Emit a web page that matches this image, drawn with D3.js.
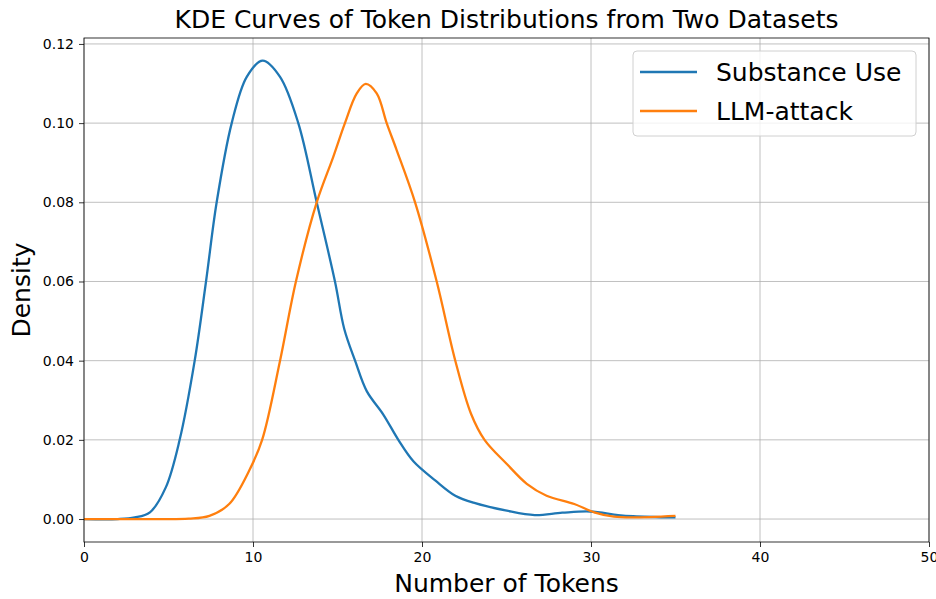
<!DOCTYPE html>
<html>
<head>
<meta charset="utf-8">
<script src="https://cdn.jsdelivr.net/npm/d3@7"></script>
<style>
  body { margin: 0; background: #fff; }
  text { font-family: "DejaVu Sans", sans-serif; }
</style>
</head>
<body>
<div id="chart"></div>
<script>
// Data
var seriesNames = ["Substance Use", "LLM-attack"];

var substanceX = [0, 2, 3, 3.9, 4.84, 5.66, 6.55, 7.22, 7.85, 8.74, 9.63, 10.57, 11.6, 12.68, 13.77, 14.85, 15.4, 16.04, 16.73, 17.71, 18.6, 19.49, 20.8, 21.97, 23.15, 25.02, 26.67, 28.3, 29.95, 31.6, 32.5, 35];
var substanceY = [0, 0, 0.0004, 0.0017, 0.008, 0.02, 0.04, 0.06, 0.08, 0.10, 0.1117, 0.1158, 0.1117, 0.10, 0.08, 0.06, 0.048, 0.04, 0.0323, 0.0264, 0.02, 0.0146, 0.0097, 0.0059, 0.004, 0.0021, 0.001, 0.0016, 0.0019, 0.001, 0.0007, 0.0004];

var llmX = [0, 4, 6.2, 7.42, 8.59, 9.77, 10.54, 11.6, 12.54, 13.77, 14.75, 15.44, 16.14, 16.67, 17.32, 17.91, 18.5, 19.59, 20.87, 21.97, 22.9, 23.7, 25.02, 26.2, 27.37, 29.01, 30.19, 31.36, 32.5, 35];
var llmY = [0, 0, 0.0001, 0.0008, 0.0038, 0.0122, 0.02, 0.04, 0.06, 0.08, 0.0915, 0.10, 0.1075, 0.1099, 0.1075, 0.10, 0.0932, 0.08, 0.06, 0.04, 0.0266, 0.02, 0.0139, 0.0089, 0.0059, 0.0038, 0.0017, 0.0006, 0.0004, 0.0008];

var xTicks = [0, 10, 20, 30, 40, 50];
var yTicks = [0, 0.02, 0.04, 0.06, 0.08, 0.10, 0.12];

//---------------------------------------------------------------------
// svg dimensions and margins
var svgWidth = 936;
var svgHeight = 599;
var margin = { top: 38, right: 7, bottom: 57, left: 84 };
var width = svgWidth - margin.left - margin.right;
var height = svgHeight - margin.top - margin.bottom;

var colors = ["#1f77b4", "#ff7f0e"];

var svg = d3.select("#chart").append("svg").attr("width", svgWidth).attr("height", svgHeight);
var chartGroup = svg.append("g").attr("transform", "translate(" + margin.left + "," + margin.top + ")");

var xScale = d3.scaleLinear().domain([0, 50]).range([0, width]);
var yScale = d3.scaleLinear().domain([-0.0058, 0.1215]).range([height, 0]);

// grid lines
chartGroup.append("g").selectAll("line").data(xTicks).enter().append("line")
  .attr("x1", function(d) { return xScale(d); }).attr("x2", function(d) { return xScale(d); })
  .attr("y1", 0).attr("y2", height)
  .attr("stroke", "#b0b0b0").attr("stroke-width", 0.8);

chartGroup.append("g").selectAll("line").data(yTicks).enter().append("line")
  .attr("x1", 0).attr("x2", width)
  .attr("y1", function(d) { return yScale(d); }).attr("y2", function(d) { return yScale(d); })
  .attr("stroke", "#b0b0b0").attr("stroke-width", 0.8);

// the two KDE curves
var series = [
  substanceX.map(function(x, i) { return [x, substanceY[i]]; }),
  llmX.map(function(x, i) { return [x, llmY[i]]; })
];

var line = d3.line()
  .x(function(d) { return xScale(d[0]); })
  .y(function(d) { return yScale(d[1]); })
  .curve(d3.curveCatmullRom.alpha(0.5));

chartGroup.selectAll(".kde").data(series).enter().append("path")
  .attr("class", "kde")
  .attr("d", line)
  .attr("fill", "none")
  .attr("stroke", function(d, i) { return colors[i]; })
  .attr("stroke-width", 2.3)
  .attr("stroke-linejoin", "round");

// axes
var bottomAxis = d3.axisBottom(xScale).tickValues(xTicks).tickSize(5).tickPadding(5).tickFormat(d3.format("d"));
var leftAxis = d3.axisLeft(yScale).tickValues(yTicks).tickSize(5).tickPadding(5).tickFormat(d3.format(".2f"));

var xAxisG = chartGroup.append("g").attr("transform", "translate(0," + height + ")").call(bottomAxis);
var yAxisG = chartGroup.append("g").call(leftAxis);

[xAxisG, yAxisG].forEach(function(g) {
  g.select(".domain").remove();
  g.selectAll("text").attr("font-family", "DejaVu Sans").attr("font-size", 14).attr("fill", "#000");
  g.selectAll(".tick line").attr("stroke", "#000").attr("stroke-width", 0.8);
});

// spines
chartGroup.append("rect").attr("x", 0).attr("y", 0).attr("width", width).attr("height", height)
  .attr("fill", "none").attr("stroke", "#000").attr("stroke-width", 0.8);

// title and labels
svg.append("text").attr("x", margin.left + width / 2).attr("y", 28)
  .attr("text-anchor", "middle").attr("font-size", 25).text("KDE Curves of Token Distributions from Two Datasets");

svg.append("text").attr("x", margin.left + width / 2).attr("y", 592)
  .attr("text-anchor", "middle").attr("font-size", 25).text("Number of Tokens");

svg.append("text").attr("transform", "translate(30," + (margin.top + height / 2) + ") rotate(-90)")
  .attr("text-anchor", "middle").attr("font-size", 25).text("Density");

// legend
var legend = chartGroup.append("g").attr("transform", "translate(" + (633 - margin.left) + "," + (51 - margin.top) + ")");
legend.append("rect").attr("width", 283).attr("height", 85).attr("rx", 4)
  .attr("fill", "#fff").attr("fill-opacity", 0.8).attr("stroke", "#d0d0d0").attr("stroke-width", 1);

var legendItems = legend.selectAll(".item").data(seriesNames).enter().append("g")
  .attr("transform", function(d, i) { return "translate(0," + (21 + i * 39) + ")"; });

legendItems.append("line").attr("x1", 7).attr("x2", 64).attr("y1", 0).attr("y2", 0)
  .attr("stroke", function(d, i) { return colors[i]; }).attr("stroke-width", 2.3);

legendItems.append("text").attr("x", 83).attr("y", 9).attr("font-size", 25).text(function(d) { return d; });
</script>
</body>
</html>
